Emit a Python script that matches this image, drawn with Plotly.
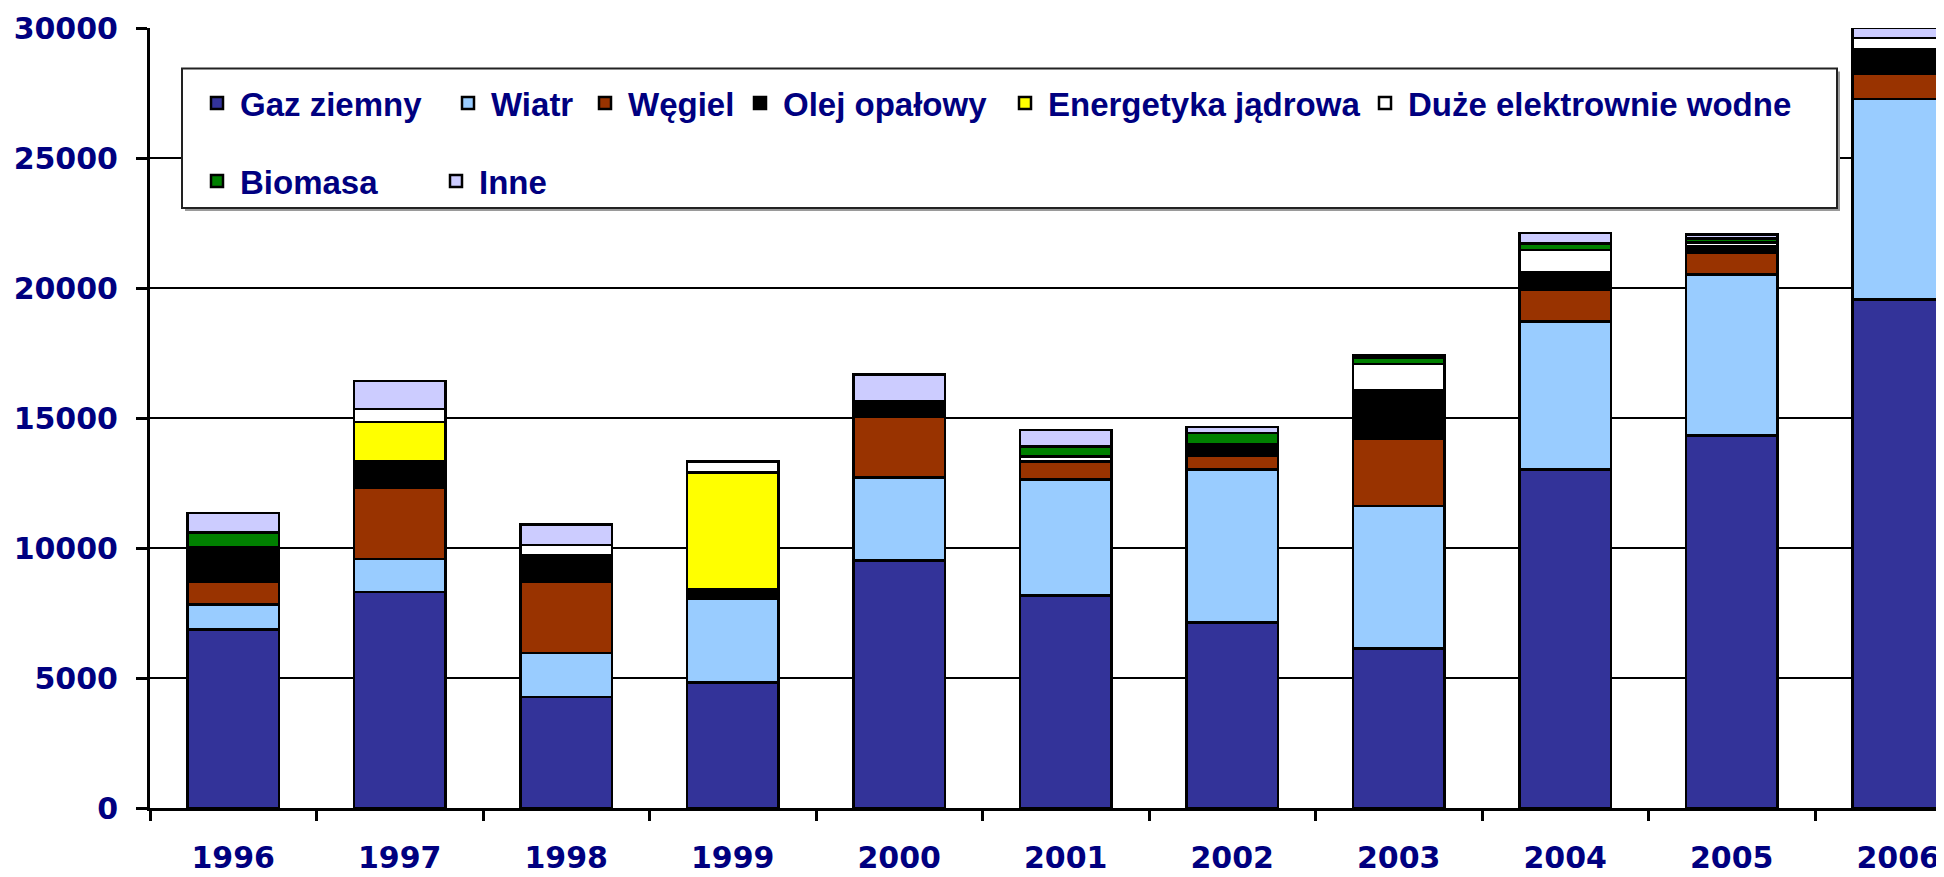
import plotly.graph_objects as go

years = ["1996", "1997", "1998", "1999", "2000", "2001", "2002", "2003", "2004", "2005", "2006"]

gaz_ziemny = [6860, 8300, 4260, 4830, 9510, 8170, 7140, 6140, 13020, 14330, 19560]
wiatr = [975, 1280, 1700, 3205, 3205, 4460, 5875, 5470, 5690, 6180, 7715]
wegiel = [870, 2730, 2745, 0, 2320, 705, 550, 2610, 1220, 850, 960]
olej_opalowy = [1320, 1040, 1000, 385, 605, 0, 420, 1840, 670, 240, 830]
energetyka_jadrowa = [0, 1490, 0, 4480, 0, 0, 0, 0, 0, 0, 100]
duze_elektrownie_wodne = [0, 510, 420, 420, 0, 180, 0, 1015, 860, 150, 450]
biomasa = [575, 0, 0, 0, 0, 385, 430, 245, 250, 150, 0]
inne = [745, 1065, 770, 0, 1025, 640, 245, 100, 405, 150, 380]

series_names = ["Gaz ziemny", "Wiatr", "Węgiel", "Olej opałowy", "Energetyka jądrowa",
                "Duże elektrownie wodne", "Biomasa", "Inne"]
series_values = [gaz_ziemny, wiatr, wegiel, olej_opalowy, energetyka_jadrowa,
                 duze_elektrownie_wodne, biomasa, inne]
colors = ["#333399", "#99CCFF", "#993300", "#000000", "#FFFF00", "#FFFFFF", "#008000", "#CCCCFF"]
legend_ids = ["legend", "legend", "legend", "legend", "legend", "legend", "legend2", "legend2"]
legend_widths = [200, 86, 104, 214, 309, 390, 188, 70]

y_ticks = [0, 5000, 10000, 15000, 20000, 25000, 30000]

# the page body adds an 8px offset; figure sized so the plot lands where the reference has it
OFF = 8
W, H = 1936, 869
PLOT_L, PLOT_T, PLOT_B = 150, 28, 808          # page pixels
ML, MT = PLOT_L - OFF, PLOT_T - OFF
MR = 0
MB = H - (PLOT_B - OFF)
PW = W - ML - MR
PH = H - MT - MB

def px_x(p):
    return (p - PLOT_L) / PW

def px_y(p):
    return (PLOT_B - p) / PH

fig = go.Figure()
for name, vals, col, lg, lw in zip(series_names, series_values, colors, legend_ids, legend_widths):
    fig.add_trace(go.Bar(
        x=years, y=vals, name=name,
        marker=dict(color=col, line=dict(color="#000000", width=2.5)),
        width=0.55, legend=lg, legendwidth=lw,
    ))

navy = "#000080"
tick_font = dict(family="DejaVu Sans", size=30, color=navy, weight="bold")
legend_font = dict(family="Liberation Sans, Arial", size=33, color=navy, weight="bold")

# legend frame with a slight shadow
fig.add_shape(type="rect", xref="paper", yref="paper",
              x0=px_x(185), x1=px_x(1840), y0=px_y(211), y1=px_y(71.5),
              line=dict(width=0), fillcolor="#9a9a9a", layer="above")
fig.add_shape(type="rect", xref="paper", yref="paper",
              x0=px_x(182), x1=px_x(1837), y0=px_y(208), y1=px_y(68.5),
              line=dict(color="#222222", width=2), fillcolor="#FFFFFF", layer="above")

fig.update_layout(
    width=W, height=H,
    margin=dict(l=ML, r=MR, t=MT, b=MB),
    barmode="stack",
    plot_bgcolor="#FFFFFF", paper_bgcolor="#FFFFFF",
    showlegend=True,
    legend=dict(orientation="h", x=px_x(194), xanchor="left", y=px_y(103), yanchor="middle",
                font=legend_font, bgcolor="rgba(0,0,0,0)", borderwidth=0, itemwidth=36,
                traceorder="normal"),
    legend2=dict(orientation="h", x=px_x(194), xanchor="left", y=px_y(181), yanchor="middle",
                 font=legend_font, bgcolor="rgba(0,0,0,0)", borderwidth=0, itemwidth=36,
                 traceorder="normal"),
    xaxis=dict(
        type="category", range=[-0.5, -0.5 + PW / 166.5],
        showline=True, linecolor="#000000", linewidth=3,
        ticks="outside", tickson="boundaries", ticklen=10, tickwidth=2.5, tickcolor="#000000",
        tickfont=tick_font, ticklabelstandoff=21, showgrid=False,
    ),
    yaxis=dict(
        range=[0, 30000], tickvals=y_ticks, tickformat="d",
        showline=True, linecolor="#000000", linewidth=3,
        ticks="outside", ticklen=11, tickwidth=2.5, tickcolor="#000000",
        tickfont=tick_font, ticklabelstandoff=12,
        showgrid=True, gridcolor="#000000", gridwidth=2, zeroline=False,
    ),
)

fig.write_html("out.html")
